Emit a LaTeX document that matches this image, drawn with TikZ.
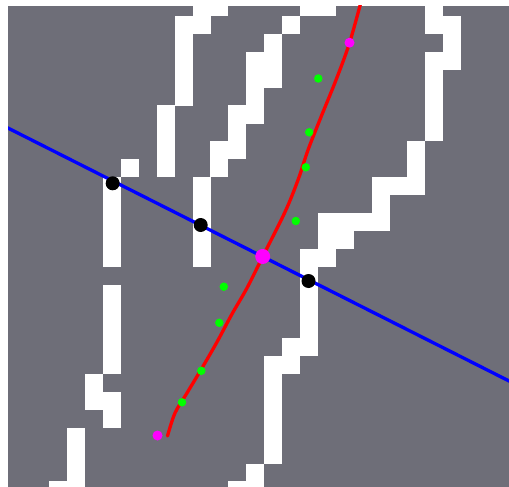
\documentclass[tikz,border=0pt]{standalone}
\definecolor{bggray}{RGB}{110,110,120}
\definecolor{pblue}{RGB}{0,0,255}
\definecolor{pred}{RGB}{255,0,0}
\definecolor{pgreen}{RGB}{0,255,0}
\definecolor{pmag}{RGB}{255,0,255}
\tikzset{
  cellfill/.style={fill=white},
  blueline/.style={draw=pblue,line width=3.3pt},
  redcurve/.style={draw=pred,line width=3.3pt,line cap=round},
  dotblack/.style={circle,fill=black,inner sep=0pt,minimum size=14pt},
  dotgreen/.style={circle,fill=pgreen,inner sep=0pt,minimum size=8.5pt},
  dotmagbig/.style={circle,fill=pmag,inner sep=0pt,minimum size=15pt},
  dotmag/.style={circle,fill=pmag,inner sep=0pt,minimum size=10pt}
}
\begin{document}
\begin{tikzpicture}[x=1pt,y=-1pt]
\useasboundingbox (0,0) rectangle (509,487);
\fill[bggray] (8,6) rectangle (509,487);
\begin{scope}
\clip (8,6) rectangle (509,487);
% white pixel cells (column/row)
\foreach \c/\r in {
  10/-1,11/-1,9/0,10/0,9/1,9/2,9/3,9/4,8/5,8/6,8/7,8/8,6/8,
  5/9,5/10,5/11,5/12,5/13,5/15,5/16,5/17,5/18,5/19,4/20,4/21,5/21,5/22,
  3/23,3/24,3/25,3/26,2/26,
  16/-1,17/-1,15/0,14/1,13/2,14/2,13/3,14/3,13/4,12/5,13/5,12/6,11/7,12/7,11/8,
  10/9,10/10,10/11,10/12,10/13,
  23/-1,23/0,24/0,24/1,24/2,23/2,23/3,23/4,23/5,23/6,22/7,22/8,22/9,20/9,21/9,
  20/10,17/11,18/11,19/11,20/11,17/12,18/12,16/13,17/13,
  16/14,16/15,16/16,16/17,16/18,15/18,14/19,15/19,
  14/20,14/21,14/22,14/23,14/24,13/25,12/26,13/26}
{
  \fill[cellfill] ({13.5+17.9*\c},{16+17.9*\r}) rectangle ++(18.0,18.0);
}
% blue line
\coordinate (bl) at (0,124);
\coordinate (br) at (515,384);
\draw[blueline] (bl) -- (br);
% red curve
\draw[redcurve] plot[smooth,tension=0.55] coordinates {
  (361.5,0) (349.5,43) (336,80) (321,117) (308,150) (298,180) (285,212)
  (263,256) (247,288) (232,314) (217,342) (202,368) (187,393) (175,413) (167.5,436)};
\end{scope}
% black dots
\node[dotblack] (k1) at (112.7,183.3) {};
\node[dotblack] (k2) at (200.7,225) {};
\node[dotblack] (k3) at (308.5,281) {};
% green dots
\node[dotgreen] (g1) at (318.3,78.5) {};
\node[dotgreen] (g2) at (309.2,132.3) {};
\node[dotgreen] (g3) at (305.8,167.3) {};
\node[dotgreen] (g4) at (295.8,221) {};
\node[dotgreen] (g5) at (223.8,286.7) {};
\node[dotgreen] (g6) at (219.3,322.8) {};
\node[dotgreen] (g7) at (201.3,370.8) {};
\node[dotgreen] (g8) at (182,402.3) {};
% magenta dots
\node[dotmagbig] (m0) at (262.7,256.5) {};
\node[dotmag] (m1) at (349.5,42.7) {};
\node[dotmag] (m2) at (157.5,435.5) {};
\end{tikzpicture}
\end{document}
